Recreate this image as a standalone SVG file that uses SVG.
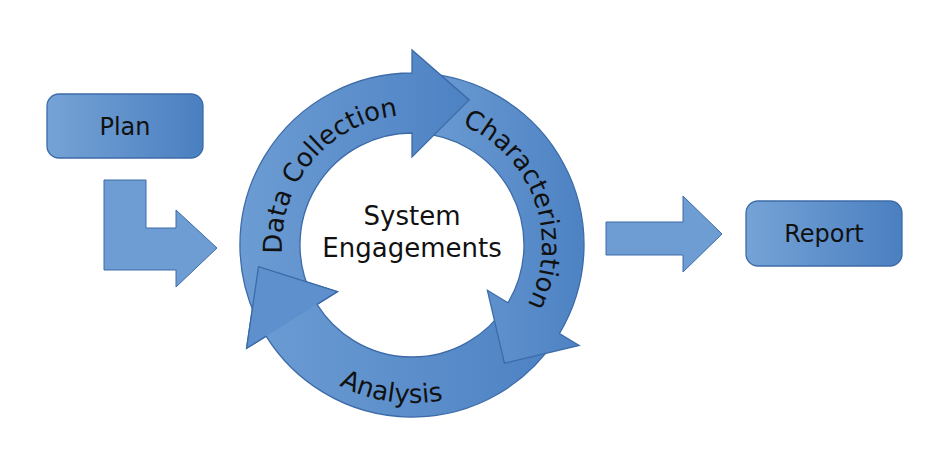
<svg xmlns="http://www.w3.org/2000/svg" width="950" height="473" viewBox="0 0 950 473">
<defs>
<linearGradient id="g" x1="0" y1="0" x2="1" y2="0"><stop offset="0" stop-color="#76a3d6"/><stop offset="1" stop-color="#4a7fc0"/></linearGradient>
<linearGradient id="g2" x1="0" y1="0" x2="1" y2="0"><stop offset="0" stop-color="#6c9cd3"/><stop offset="1" stop-color="#4d82c3"/></linearGradient>
<path id="pDC" d="M299.4,310 A130,130 0 0 1 456.5,122.8"/>
<path id="pCh" d="M412,115 A130,130 0 0 1 495.6,344.6"/>
<path id="pAn" d="M263.5,299 A158,158 0 0 0 539.8,337.9"/>
</defs>
<style>
.s{stroke:#3c6ba8;stroke-width:1.3}
.b{fill:url(#g)}
.r{fill:url(#g2)}
.t{font-family:"DejaVu Sans",sans-serif;font-size:26px;fill:#111}
.l{font-family:"DejaVu Sans",sans-serif;font-size:24px;fill:#111}
</style>
<rect width="950" height="473" fill="#fff"/>
<g id="plan"><rect class="b s" x="47" y="94" width="156" height="64" rx="12"/><text class="l" x="125" y="135" text-anchor="middle">Plan</text></g>
<g id="report"><rect class="b s" x="746" y="201" width="156" height="65" rx="12"/><text class="l" x="824" y="242" text-anchor="middle">Report</text></g>
<g id="connectors">
<polygon fill="#6d9dd3" stroke="#3c6ba8" stroke-width="1" points="104,180 146,180 146,228 176,228 176,210 217,248 176,287 176,270 104,270"/>
<polygon fill="#6d9dd3" stroke="#3c6ba8" stroke-width="1" points="606,222 683,222 683,196 722,234 683,272 683,255 606,255"/>
</g>
<g id="cycle">
<g id="analysis"><path class="r s" d="M556.3,338.7 A172,172 0 0 1 266.1,336.1 L246.6,348.3 L258.5,266.6 L337.4,291.6 L317,304.4 A112,112 0 0 0 505.9,306 Z"/></g>
<g id="characterization"><path class="r s" d="M421,73.2 A172,172 0 0 1 559.4,333.6 L579.1,345.4 L504.4,363.2 L487.4,290.3 L508,302.7 A112,112 0 0 0 417.9,133.2 Z"/></g>
<g id="datacollection"><path class="r s" d="M260.1,325.8 A172,172 0 0 1 412,73 L412,50 L469.2,99.9 L412,157 L412,133 A112,112 0 0 0 313.1,297.6 Z"/></g>
<polygon fill="#5f90ce" points="246.6,348.3 258.5,266.6 337.4,291.6"/>
<polyline fill="none" class="s" points="266.1,336.1 246.6,348.3 258.5,266.6 337.4,291.6 317,304.4"/>
<text class="t"><textPath href="#pDC" startOffset="50%" text-anchor="middle">Data Collection</textPath></text>
<text class="t"><textPath href="#pCh" startOffset="50%" text-anchor="middle">Characterization</textPath></text>
<text class="t"><textPath href="#pAn" startOffset="50%" text-anchor="middle">Analysis</textPath></text>
</g>
<g id="center"><text class="t" x="412" y="225" text-anchor="middle">System</text><text class="t" x="412" y="257" text-anchor="middle">Engagements</text></g>
</svg>
